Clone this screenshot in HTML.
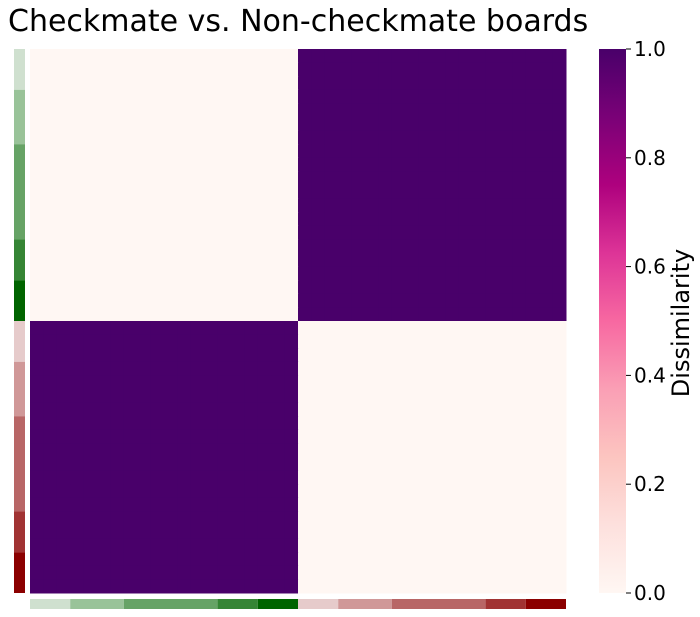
<!DOCTYPE html>
<html><head><meta charset="utf-8"><style>
html,body{margin:0;padding:0;background:#fff;}
svg{display:block;font-family:"DejaVu Sans","Liberation Sans",sans-serif;}
</style></head><body>
<svg id="chart" width="700" height="617" viewBox="0 0 700 617">
<defs>
<linearGradient id="rdpu" x1="0" y1="1" x2="0" y2="0">
<stop offset="0" stop-color="#fff7f3"/><stop offset="0.125" stop-color="#fde0dd"/>
<stop offset="0.25" stop-color="#fcc5c0"/><stop offset="0.375" stop-color="#fa9fb5"/>
<stop offset="0.5" stop-color="#f768a1"/><stop offset="0.625" stop-color="#dd3497"/>
<stop offset="0.75" stop-color="#ae017e"/><stop offset="0.875" stop-color="#7a0177"/>
<stop offset="1" stop-color="#49006a"/>
</linearGradient>
</defs>
<text x="8" y="31" font-size="30" fill="#000">Checkmate vs. Non-checkmate boards</text>
<g id="cells"></g>
<g id="rowbar"></g>
<g id="colbar"></g>
<rect x="599" y="49" width="27" height="544" fill="url(#rdpu)"/>
<g id="cbticks"></g>
<text transform="translate(689,323) rotate(-90)" text-anchor="middle" font-size="24" fill="#000">Dissimilarity</text>
</svg>
<script>
// data
const classNames = ["checkmate", "non-checkmate"];
const groupCounts = [3, 4, 7, 3, 3, 3, 4, 7, 3, 3];
const groupClass = [0, 0, 0, 0, 0, 1, 1, 1, 1, 1];
const groupColors = ["#cfe0cf", "#99c399", "#66a366", "#358535", "#006400", "#e6cbcb", "#d09898", "#b86666", "#a13333", "#8b0000"];
const classDissimilarity = [[0, 1], [1, 0]];
const cbTicks = [0.0, 0.2, 0.4, 0.6, 0.8, 1.0];
const cbTickLabels = ["0.0", "0.2", "0.4", "0.6", "0.8", "1.0"];

const NS = "http://www.w3.org/2000/svg";
const X0 = 30, X1 = 566, Y0 = 49, Y1 = 593;
const boardClass = [], boardGroup = [];
groupCounts.forEach((c, g) => { for (let i = 0; i < c; i++) { boardClass.push(groupClass[g]); boardGroup.push(g); } });
const N = boardClass.length;
const sx = i => X0 + (X1 - X0) * i / N;
const sy = i => Y0 + (Y1 - Y0) * i / N;
const cbY = v => Y1 - (Y1 - Y0) * v;
const stops = [[0,[255,247,243]],[0.125,[253,224,221]],[0.25,[252,197,192]],[0.375,[250,159,181]],[0.5,[247,104,161]],[0.625,[221,52,151]],[0.75,[174,1,126]],[0.875,[122,1,119]],[1,[73,0,106]]];
function cmap(v) {
  for (let k = 1; k < stops.length; k++) {
    if (v <= stops[k][0]) {
      const [a, ca] = stops[k-1], [b, cb] = stops[k], t = (v - a) / (b - a);
      return "rgb(" + ca.map((c, j) => Math.round(c + (cb[j] - c) * t)).join(",") + ")";
    }
  }
  return "rgb(73,0,106)";
}
function mk(tag, attrs, parent) {
  const e = document.createElementNS(NS, tag);
  for (const k in attrs) e.setAttribute(k, attrs[k]);
  parent.appendChild(e);
  return e;
}
const cells = document.getElementById("cells");
for (let r = 0; r < N; r++) for (let c = 0; c < N; c++) {
  const v = classDissimilarity[boardClass[r]][boardClass[c]];
  const e = mk("rect", {x: sx(c), y: sy(r), width: sx(c+1) - sx(c) + 0.5, height: sy(r+1) - sy(r) + 0.5, fill: cmap(v)}, cells);
  
  
}
const rowbar = document.getElementById("rowbar"), colbar = document.getElementById("colbar");
let start = 0;
groupCounts.forEach((c, g) => {
  const a = mk("rect", {x: 14, y: sy(start), width: 11, height: sy(start + c) - sy(start), fill: groupColors[g]}, rowbar);
  
  
  const b = mk("rect", {x: sx(start), y: 599, width: sx(start + c) - sx(start), height: 10, fill: groupColors[g]}, colbar);
  
  
  start += c;
});
const tk = document.getElementById("cbticks");
cbTicks.forEach((v, i) => {
  const y = cbY(v);
  const l = mk("line", {x1: 626, x2: 631, y1: y, y2: y, stroke: "#000", "stroke-width": 1}, tk);
  
  
  const t = mk("text", {x: 634, y: y + 7, "font-size": 20, fill: "#000"}, tk);
  t.textContent = cbTickLabels[i];
  
  
});
</script>
</body></html>
